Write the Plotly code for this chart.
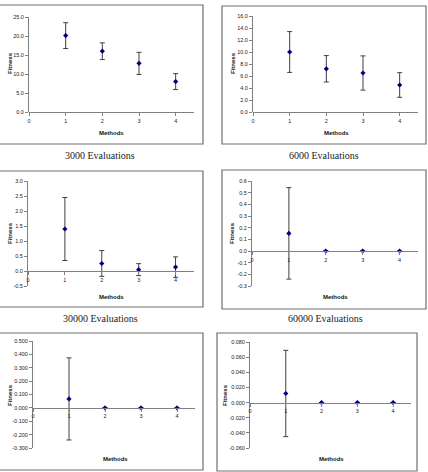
import plotly.graph_objects as go

W, H = 428, 472

methods = [1, 2, 3, 4]

captions = ["3000 Evaluations", "6000 Evaluations", "30000 Evaluations", "60000 Evaluations", "", ""]

mean_3000 = [20.1, 16.0, 12.8, 8.0]
err_3000 = [3.4, 2.2, 2.9, 2.1]
mean_6000 = [10.0, 7.2, 6.5, 4.5]
err_6000 = [3.4, 2.2, 2.85, 2.05]
mean_30000 = [1.40, 0.25, 0.045, 0.13]
err_30000 = [1.05, 0.43, 0.20, 0.34]
mean_60000 = [0.151, 0.0, 0.0, 0.0]
err_60000 = [0.392, 0.0, 0.0, 0.0]
mean_e5 = [0.067, 0.0, 0.0, 0.0]
err_e5 = [0.307, 0.0, 0.0, 0.0]
mean_e6 = [0.012, 0.0, 0.0, 0.0]
err_e6 = [0.057, 0.0, 0.0, 0.0]

x_ticks = [0, 1, 2, 3, 4]
x_ticklabels = ["0", "1", "2", "3", "4"]

yt1 = [0, 5, 10, 15, 20, 25]
yl1 = ["0.0", "5.0", "10.0", "15.0", "20.0", "25.0"]
yt2 = [0, 2, 4, 6, 8, 10, 12, 14, 16]
yl2 = ["0.0", "2.0", "4.0", "6.0", "8.0", "10.0", "12.0", "14.0", "16.0"]
yt3 = [-0.5, 0, 0.5, 1.0, 1.5, 2.0, 2.5, 3.0]
yl3 = ["-0.5", "0.0", "0.5", "1.0", "1.5", "2.0", "2.5", "3.0"]
yt4 = [-0.3, -0.2, -0.1, 0, 0.1, 0.2, 0.3, 0.4, 0.5, 0.6]
yl4 = ["-0.3", "-0.2", "-0.1", "0.0", "0.1", "0.2", "0.3", "0.4", "0.5", "0.6"]
yt5 = [-0.3, -0.2, -0.1, 0, 0.1, 0.2, 0.3, 0.4, 0.5]
yl5 = ["-0.300", "-0.200", "-0.100", "0.000", "0.100", "0.200", "0.300", "0.400", "0.500"]
yt6 = [-0.06, -0.04, -0.02, 0, 0.02, 0.04, 0.06, 0.08]
yl6 = ["-0.060", "-0.040", "-0.020", "0.000", "0.020", "0.040", "0.060", "0.080"]

panels = [
    dict(mean=mean_3000, err=err_3000, yr=[0, 25], yt=yt1, yl=yl1,
         area=(29, 194, 17, 112), box=(-1, 203, 5, 144), fit=(10, 63), meth=(112, 133), cap=(100, 155)),
    dict(mean=mean_6000, err=err_6000, yr=[0, 16], yt=yt2, yl=yl2,
         area=(253, 418, 16, 112), box=(222, 426, 6, 144), fit=(233, 63), meth=(336, 133), cap=(324, 155)),
    dict(mean=mean_30000, err=err_30000, yr=[-0.5, 3], yt=yt3, yl=yl3,
         area=(28, 194, 181, 286), box=(-1, 203, 171, 307), fit=(10, 233), meth=(112, 297), cap=(100, 318)),
    dict(mean=mean_60000, err=err_60000, yr=[-0.3, 0.6], yt=yt4, yl=yl4,
         area=(252, 418, 181, 286), box=(222, 426, 170, 309), fit=(232, 233), meth=(335, 297), cap=(325, 318)),
    dict(mean=mean_e5, err=err_e5, yr=[-0.3, 0.5], yt=yt5, yl=yl5,
         area=(33, 195, 341, 448), box=(-1, 203, 333, 470), fit=(10, 395), meth=(115, 459), cap=None),
    dict(mean=mean_e6, err=err_e6, yr=[-0.06, 0.08], yt=yt6, yl=yl6,
         area=(250, 411, 342, 448), box=(217, 417, 333, 471), fit=(225, 395), meth=(331, 459), cap=None),
]

def px(x):
    return x / W

def py(y):
    return 1 - y / H

fig = go.Figure()
shapes = []
annotations = []
tick_font = dict(family="Liberation Sans, Arial", size=5.5, color="#222222")
lab_font = dict(family="Liberation Sans, Arial", size=6, color="#111111")
axis_col = "#808080"

for i, p in enumerate(panels, start=1):
    xa = "x" if i == 1 else f"x{i}"
    ya = "y" if i == 1 else f"y{i}"
    l, r, t, b = p["area"]
    ymin, ymax = p["yr"]
    fig.add_trace(go.Scatter(
        x=methods, y=p["mean"], mode="markers", xaxis=xa, yaxis=ya,
        marker=dict(symbol="diamond", size=4, color="#000080"),
        error_y=dict(type="data", array=p["err"], color="#404040", thickness=1, width=2.5),
        showlegend=False, hoverinfo="skip", cliponaxis=False,
    ))
    zero_px = t + (ymax - 0) / (ymax - ymin) * (b - t)
    xkey = "xaxis" if i == 1 else f"xaxis{i}"
    ykey = "yaxis" if i == 1 else f"yaxis{i}"
    fig.update_layout({
        xkey: dict(domain=[px(l), px(r)], range=[0, 4.5], anchor="free", position=py(zero_px),
                   tickvals=x_ticks, ticktext=x_ticklabels, ticks="outside", ticklen=3,
                   tickcolor=axis_col, showline=True, linecolor=axis_col, linewidth=1,
                   showgrid=False, zeroline=False, tickfont=tick_font, fixedrange=True),
        ykey: dict(domain=[py(b), py(t)], range=[ymin, ymax], anchor=xa,
                   tickvals=p["yt"], ticktext=p["yl"], ticks="outside", ticklen=3,
                   tickcolor=axis_col, showline=True, linecolor=axis_col, linewidth=1,
                   showgrid=False, zeroline=False, tickfont=tick_font, fixedrange=True),
    })
    bl, br, bt, bb = p["box"]
    shapes.append(dict(type="rect", xref="paper", yref="paper",
                       x0=px(bl), x1=px(br), y0=py(bb), y1=py(bt),
                       line=dict(color="#6e6e6e", width=1.2), fillcolor="rgba(0,0,0,0)"))
    fx, fy = p["fit"]
    annotations.append(dict(text="<b>Fitness</b>", x=px(fx), y=py(fy), xref="paper", yref="paper",
                            xanchor="center", yanchor="middle",
                            showarrow=False, textangle=-90, font=lab_font))
    mx, my = p["meth"]
    annotations.append(dict(text="<b>Methods</b>", x=px(mx), y=py(my), xref="paper", yref="paper",
                            xanchor="center", yanchor="middle",
                            showarrow=False, font=lab_font))
    if p["cap"] is not None:
        cx, cy = p["cap"]
        annotations.append(dict(text=captions[i - 1], x=px(cx), y=py(cy), xref="paper", yref="paper",
                                xanchor="center", yanchor="middle", showarrow=False,
                                font=dict(family="Liberation Serif, Times New Roman", size=10, color="#222222")))

fig.update_layout(template="none", width=W, height=H, margin=dict(l=0, r=0, t=0, b=0),
                  paper_bgcolor="white", plot_bgcolor="white",
                  shapes=shapes, annotations=annotations, showlegend=False)

fig.write_html("out.html", config={"displayModeBar": False})
